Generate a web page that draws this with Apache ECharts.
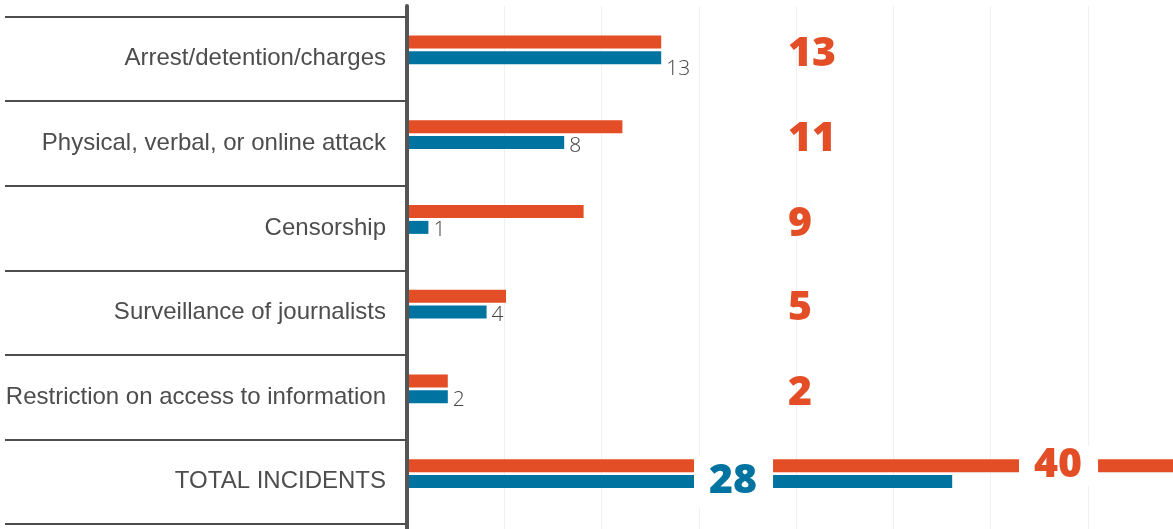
<!DOCTYPE html>
<html lang="en">
<head>
    <meta charset="UTF-8">
    <title>Incidents by type</title>
    <script src="https://cdn.jsdelivr.net/npm/echarts@6.0.0/dist/echarts.min.js"></script>
    <style>
        html, body { margin: 0; padding: 0; background: #fff; }
        #chart { width: 1173px; height: 529px; }
    </style>
</head>
<body>
<div id="chart"></div>
<script>
// 数据
const categories = [
    'Arrest/detention/charges',
    'Physical, verbal, or online attack',
    'Censorship',
    'Surveillance of journalists',
    'Restriction on access to information',
    'TOTAL INCIDENTS'
];
const orangeValues = [13, 11, 9, 5, 2, 40];
const blueValues = [13, 8, 1, 4, 2, 28];
const valueTicks = { min: 0, max: 40, interval: 5 };

const ORANGE = '#e44e26';
const BLUE = '#0073a1';
const GREY = '#4d4d4d';
const bigFont = { fontFamily: 'Open Sans', fontWeight: 800, fontSize: 41 };
const lastIdx = categories.length - 1;

const chart = echarts.init(document.getElementById('chart'));

// 轴线在 407，条形从 409 开始；宽度超出画布一点（40 的条被截断）
const axisGrid = { left: 407, width: 778, outerBoundsMode: 'none', containLabel: false };
const barGrid = { left: 409, width: 776, outerBoundsMode: 'none', containLabel: false };

chart.setOption({
    animation: false,
    grid: [
        Object.assign({ top: 16.5, bottom: 5 }, axisGrid),   // 分类标签和分隔线
        Object.assign({ top: 7.5, bottom: 13 }, barGrid),    // 条形
        Object.assign({ top: 6, bottom: -5 }, axisGrid)      // 竖轴线和网格线
    ],
    xAxis: [
        Object.assign({ type: 'value', gridIndex: 0, show: false }, valueTicks),
        Object.assign({ type: 'value', gridIndex: 1, show: false }, valueTicks),
        Object.assign({
            type: 'value', gridIndex: 2,
            axisLine: { show: false }, axisTick: { show: false }, axisLabel: { show: false },
            splitLine: { show: true, lineStyle: { color: '#f0f0f0', width: 1 } }
        }, valueTicks)
    ],
    yAxis: [
        {
            type: 'category', gridIndex: 0, data: categories, inverse: true,
            axisLine: { show: false },
            axisTick: { show: true, length: 402, lineStyle: { color: GREY, width: 2 } },
            axisLabel: {
                margin: 21, color: GREY, fontSize: 24, fontFamily: 'Liberation Sans'
            },
            splitLine: { show: false }
        },
        {
            type: 'category', gridIndex: 1, data: categories, inverse: true, show: false
        },
        {
            type: 'value', gridIndex: 2,
            axisLine: { show: true, lineStyle: { color: '#555', width: 4 } },
            axisTick: { show: false }, axisLabel: { show: false }, splitLine: { show: false }
        }
    ],
    series: [
        {
            type: 'bar', xAxisIndex: 1, yAxisIndex: 1,
            data: orangeValues.map((v, i) => i === lastIdx ? {
                value: v,
                label: {
                    position: [610, 6.5],
                    backgroundColor: '#fff',
                    padding: [0, 16, 0, 15]
                }
            } : v),
            barWidth: 13, barGap: '23%',
            itemStyle: { color: ORANGE },
            label: Object.assign({
                show: true, position: [379, 19], align: 'left', verticalAlign: 'middle',
                color: ORANGE, lineHeight: 40
            }, bigFont)
        },
        {
            type: 'bar', xAxisIndex: 1, yAxisIndex: 1,
            data: blueValues.map((v, i) => {
                if (i === lastIdx) {
                    return {
                        value: v,
                        label: Object.assign({
                            position: [285, 3.5], align: 'left', verticalAlign: 'middle',
                            color: BLUE, backgroundColor: '#fff',
                            lineHeight: 40, padding: [8, 16, 3, 15]
                        }, bigFont)
                    };
                }
                if (i === 0) return { value: v, label: { offset: [0, 11] } };
                return v;
            }),
            barWidth: 13,
            itemStyle: { color: BLUE },
            label: {
                show: true, position: 'right', distance: 5, offset: [0, 3],
                color: '#444', fontSize: 21, fontFamily: 'Open Sans', fontWeight: 300
            }
        }
    ]
});

window.onresize = function () {
    chart.resize();
};
</script>
</body>
</html>
